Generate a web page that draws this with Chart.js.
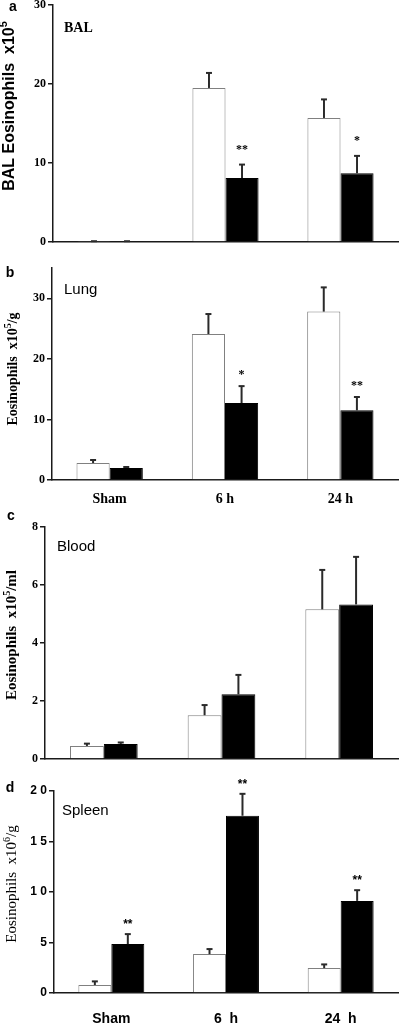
<!DOCTYPE html>
<html><head><meta charset="utf-8">
<script src="https://cdn.jsdelivr.net/npm/chart.js@4/dist/chart.umd.min.js"></script>
<style>
html,body{margin:0;padding:0;background:#fff;}
#wrap{position:relative;width:400px;height:1025px;overflow:hidden;}
canvas{position:absolute;left:0;}
</style></head>
<body><div id="wrap">
<canvas id="pa" width="400" height="250" style="top:0px"></canvas>
<canvas id="pb" width="400" height="260" style="top:250px"></canvas>
<canvas id="pc" width="400" height="255" style="top:510px"></canvas>
<canvas id="pd" width="400" height="260" style="top:765px"></canvas>
</div>
<script>
// ---- data ----
const categories = ['Sham', '6 h', '24 h'];
const spleenCategoryLabels = ['Sham', '6  h', '24  h'];

const balWhite = [0.05, 19.5, 15.7];
const balWhiteErr = [0.05, 1.9, 2.35];
const balBlack = [0.05, 8.1, 8.7];
const balBlackErr = [0.05, 1.7, 2.2];
const balStars = ['', '**', '*'];
const balTicks = [0, 10, 20, 30];

const lungWhite = [2.8, 24.1, 27.8];
const lungWhiteErr = [0.5, 3.3, 4.0];
const lungBlack = [2.0, 12.7, 11.5];
const lungBlackErr = [0.15, 2.8, 2.2];
const lungStars = ['', '*', '**'];
const lungTicks = [0, 10, 20, 30];

const bloodWhite = [0.45, 1.51, 5.16];
const bloodWhiteErr = [0.08, 0.35, 1.36];
const bloodBlack = [0.52, 2.23, 5.33];
const bloodBlackErr = [0.05, 0.67, 1.64];
const bloodStars = ['', '', ''];
const bloodTicks = [0, 2, 4, 6, 8];

const spleenWhite = [0.79, 3.85, 2.47];
const spleenWhiteErr = [0.36, 0.5, 0.36];
const spleenBlack = [4.84, 17.55, 9.12];
const spleenBlackErr = [0.99, 2.17, 1.06];
const spleenStars = ['**', '**', '**'];
const spleenTicks = [0, 5, 10, 15, 20];
const spleenTickLabels = ['0', '5', '1 0', '1 5', '2 0'];

// ---- drawing helpers ----
const SERIF = '"Liberation Serif", "Times New Roman", serif';
const SANS = '"Liberation Sans", Arial, sans-serif';

const annot = {
  id: 'annot',
  afterDatasetsDraw(chart, args, o) {
    const ctx = chart.ctx, y = chart.scales.y;
    ctx.save();
    o.errors.forEach((errArr, di) => {
      const meta = chart.getDatasetMeta(di);
      meta.data.forEach((bar, i) => {
        const v = chart.data.datasets[di].data[i];
        const base = y.getPixelForValue(v);
        const top = y.getPixelForValue(v + errArr[i]);
        ctx.strokeStyle = '#2a2a2a';
        ctx.lineWidth = 2;
        ctx.beginPath();
        ctx.moveTo(bar.x, base); ctx.lineTo(bar.x, top);
        ctx.stroke();
        ctx.beginPath();
        ctx.moveTo(bar.x - 3, top); ctx.lineTo(bar.x + 3, top);
        ctx.stroke();
      });
    });
    // stars above black bars
    const meta1 = chart.getDatasetMeta(1);
    ctx.fillStyle = '#000';
    ctx.font = o.starFont;
    ctx.textAlign = 'center';
    ctx.textBaseline = 'middle';
    o.stars.forEach((s, i) => {
      if (!s) return;
      const v = chart.data.datasets[1].data[i] + o.errors[1][i];
      ctx.fillText(s, meta1.data[i].x, y.getPixelForValue(v) - o.starGap);
    });
    ctx.restore();
  },
  afterDraw(chart, args, o) {
    const ctx = chart.ctx;
    ctx.save();
    ctx.fillStyle = '#000';
    ctx.textBaseline = 'middle';
    o.texts.forEach(t => {
      ctx.font = t.font;
      ctx.textAlign = t.align || 'left';
      ctx.fillText(t.text, t.x, t.y);
    });
    // rotated y title with superscript
    const yt = o.ytitle;
    ctx.translate(yt.x, yt.y);
    ctx.rotate(-Math.PI / 2);
    ctx.textAlign = 'left';
    ctx.textBaseline = 'middle';
    let total = 0;
    const widths = yt.parts.map(p => {
      ctx.font = p.sup ? yt.supFont : yt.font;
      const w = ctx.measureText(p.text).width;
      total += w;
      return w;
    });
    let x = -total / 2;
    yt.parts.forEach((p, i) => {
      ctx.font = p.sup ? yt.supFont : yt.font;
      ctx.fillText(p.text, x, p.sup ? -yt.supShift : 0);
      x += widths[i];
    });
    ctx.restore();
  }
};

function makePanel(id, c) {
  new Chart(document.getElementById(id), {
    type: 'bar',
    data: {
      labels: c.labels,
      datasets: [
        { data: c.white, backgroundColor: '#ffffff', borderColor: '#808080', borderWidth: 1,
          categoryPercentage: 0.575, barPercentage: 1.0 },
        { data: c.black, backgroundColor: '#000000', borderColor: '#000000', borderWidth: 1,
          categoryPercentage: 0.575, barPercentage: 1.0 }
      ]
    },
    options: {
      responsive: false, animation: false, devicePixelRatio: 1,
      layout: { padding: { top: c.padTop, right: 2, left: 0, bottom: 0 } },
      plugins: {
        legend: { display: false }, tooltip: { enabled: false },
        annot: { errors: c.errors, stars: c.stars, starFont: c.starFont, starGap: c.starGap,
                 texts: c.texts, ytitle: c.ytitle }
      },
      scales: {
        x: {
          grid: { display: false, drawTicks: false },
          border: { display: true, color: '#1a1a1a', width: 1.5 },
          ticks: { display: c.showX, font: c.xFont, color: '#000', padding: c.xPad, maxRotation: 0, autoSkip: false },
          afterFit(s) { s.height = c.xh; s.paddingLeft = 0; s.paddingRight = 0; }
        },
        y: {
          min: 0, max: c.max,
          afterBuildTicks(s) { s.ticks = c.ticks.map(v => ({ value: v })); },
          ticks: { callback: (v, i) => c.tickLabels[i], font: c.yFont, color: '#000', padding: 2 },
          grid: { drawOnChartArea: false, drawTicks: true, tickLength: 5, color: '#1a1a1a', lineWidth: 1.5 },
          border: { display: true, color: '#1a1a1a', width: 1.5 },
          afterFit(s) { s.width = c.yw; s.paddingTop = 0; s.paddingBottom = 0; }
        }
      }
    },
    plugins: [annot]
  });
}

const serifTick = { family: SERIF, size: 12, weight: 'bold' };

makePanel('pa', {
  labels: categories, white: balWhite, black: balBlack, errors: [balWhiteErr, balBlackErr],
  stars: balStars, starFont: 'bold 12px ' + SERIF, starGap: 15,
  ticks: balTicks, tickLabels: balTicks.map(String), max: 30,
  padTop: 5, yw: 53, xh: 8, showX: false, xFont: serifTick, xPad: 0, yFont: serifTick,
  texts: [
    { text: 'a', x: 13, y: 7, font: 'bold 14px ' + SANS, align: 'center' },
    { text: 'BAL', x: 64, y: 28, font: 'bold 14px ' + SERIF }
  ],
  ytitle: { x: 10, y: 106, font: 'bold 16px ' + SANS, supFont: 'bold 11px ' + SANS, supShift: 6,
            parts: [{ text: 'BAL Eosinophils  x10' }, { text: '5', sup: true }] }
});

makePanel('pb', {
  labels: categories, white: lungWhite, black: lungBlack, errors: [lungWhiteErr, lungBlackErr],
  stars: lungStars, starFont: 'bold 12px ' + SERIF, starGap: 11,
  ticks: lungTicks, tickLabels: lungTicks.map(String), max: 35,
  padTop: 18, yw: 52, xh: 30, showX: true, xFont: { family: SERIF, size: 14, weight: 'bold' }, xPad: 11,
  yFont: serifTick,
  texts: [
    { text: 'b', x: 10, y: 23, font: 'bold 14px ' + SANS, align: 'center' },
    { text: 'Lung', x: 64, y: 40, font: '15px ' + SANS }
  ],
  ytitle: { x: 13, y: 119, font: 'bold 14px ' + SERIF, supFont: 'bold 10px ' + SERIF, supShift: 5,
            parts: [{ text: 'Eosinophils  x10' }, { text: '5', sup: true }, { text: '/g' }] }
});

makePanel('pc', {
  labels: categories, white: bloodWhite, black: bloodBlack, errors: [bloodWhiteErr, bloodBlackErr],
  stars: bloodStars, starFont: 'bold 12px ' + SERIF, starGap: 10,
  ticks: bloodTicks, tickLabels: bloodTicks.map(String), max: 8,
  padTop: 17, yw: 45, xh: 6, showX: false, xFont: serifTick, xPad: 0, yFont: serifTick,
  texts: [
    { text: 'c', x: 11, y: 6, font: 'bold 14px ' + SANS, align: 'center' },
    { text: 'Blood', x: 57, y: 37, font: '15px ' + SANS }
  ],
  ytitle: { x: 12, y: 125, font: 'bold 15px ' + SERIF, supFont: 'bold 10px ' + SERIF, supShift: 5,
            parts: [{ text: 'Eosinophils  x10' }, { text: '5', sup: true }, { text: '/ml' }] }
});

makePanel('pd', {
  labels: spleenCategoryLabels, white: spleenWhite, black: spleenBlack, errors: [spleenWhiteErr, spleenBlackErr],
  stars: spleenStars, starFont: 'bold 12px ' + SANS, starGap: 9,
  ticks: spleenTicks, tickLabels: spleenTickLabels, max: 20,
  padTop: 26, yw: 54, xh: 32, showX: true, xFont: { family: SANS, size: 14, weight: 'bold' }, xPad: 18,
  yFont: { family: SANS, size: 12, weight: 'bold' },
  texts: [
    { text: 'd', x: 10, y: 23, font: 'bold 14px ' + SANS, align: 'center' },
    { text: 'Spleen', x: 62, y: 46, font: '15px ' + SANS }
  ],
  ytitle: { x: 12, y: 119, font: '15px ' + SERIF, supFont: '10px ' + SERIF, supShift: 5,
            parts: [{ text: 'Eosinophils  x10' }, { text: '6', sup: true }, { text: '/g' }] }
});
</script>
</body></html>
